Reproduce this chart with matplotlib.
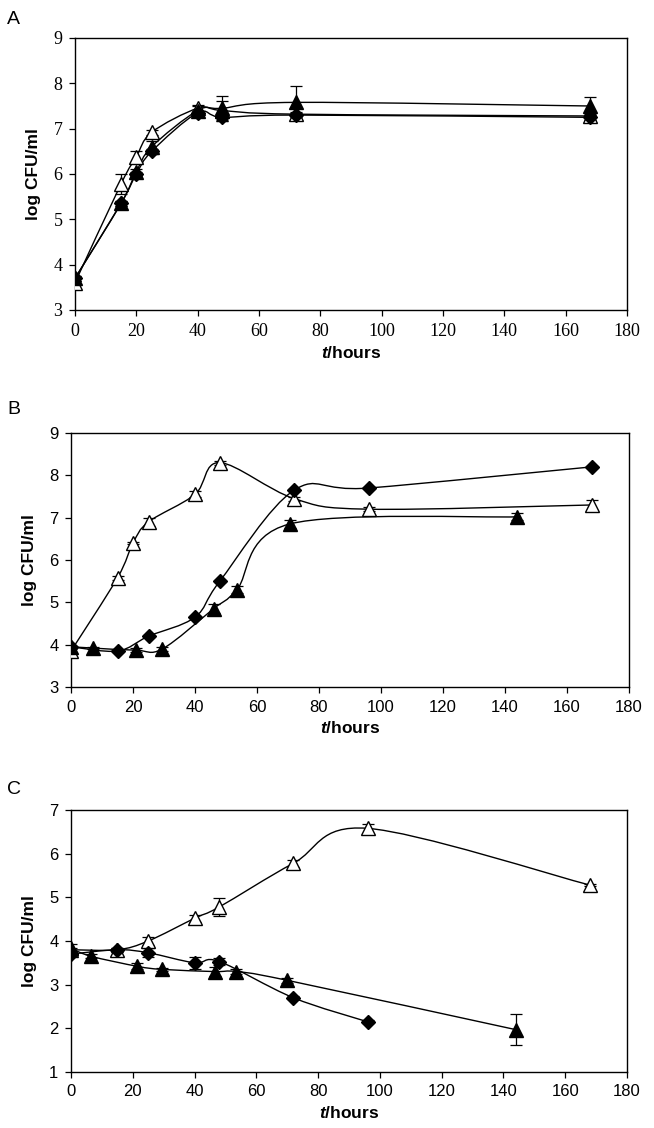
import matplotlib
matplotlib.use('Agg')
import matplotlib.pyplot as plt
from matplotlib.path import Path
from matplotlib.patches import PathPatch

plt.rcParams['font.family'] = ['Liberation Sans', 'DejaVu Sans']
plt.rcParams['mathtext.fontset'] = 'custom'
plt.rcParams['mathtext.it'] = 'Liberation Sans:italic:bold'
plt.rcParams['mathtext.rm'] = 'Liberation Sans:bold'

# ---- panel A ----
a_open_t = [0, 15, 20, 25, 40, 48, 72, 168]
a_open = [3.6, 5.78, 6.38, 6.92, 7.45, 7.4, 7.32, 7.28]
a_open_err = [0.05, 0.22, 0.12, 0.05, 0.07, 0.22, 0.05, 0.05]
a_diam_t = [0, 15, 20, 25, 40, 48, 72, 168]
a_diam = [3.7, 5.35, 6.0, 6.5, 7.35, 7.25, 7.3, 7.25]
a_diam_err = [0.05, 0.05, 0.05, 0.05, 0.05, 0.05, 0.05, 0.05]
a_fill_t = [0, 15, 20, 25, 40, 48, 72, 168]
a_fill = [3.7, 5.35, 6.05, 6.6, 7.4, 7.45, 7.58, 7.5]
a_fill_err = [0.05, 0.05, 0.05, 0.13, 0.1, 0.28, 0.36, 0.2]

# ---- panel B ----
b_open_t = [0, 15, 20, 25, 40, 48, 72, 96, 168]
b_open = [3.85, 5.58, 6.4, 6.9, 7.55, 8.3, 7.45, 7.2, 7.3]
b_open_err = [0.05, 0.05, 0.03, 0.1, 0.07, 0.05, 0.05, 0.05, 0.12]
b_diam_t = [0, 15, 25, 40, 48, 72, 96, 168]
b_diam = [3.95, 3.85, 4.2, 4.65, 5.5, 7.65, 7.7, 8.2]
b_diam_err = [0.03, 0.03, 0.03, 0.03, 0.03, 0.03, 0.03, 0.03]
b_fill_t = [0, 7, 21, 29.5, 46, 53.5, 70.5, 144]
b_fill = [3.95, 3.92, 3.87, 3.9, 4.85, 5.3, 6.85, 7.02]
b_fill_err = [0.03, 0.03, 0.05, 0.05, 0.1, 0.08, 0.1, 0.08]

# ---- panel C ----
c_open_t = [0, 15, 25, 40, 48, 72, 96, 168]
c_open = [3.8, 3.8, 4.0, 4.52, 4.78, 5.78, 6.58, 5.28]
c_open_err = [0.05, 0.05, 0.1, 0.08, 0.2, 0.08, 0.1, 0.03]
c_diam_t = [0, 15, 25, 40, 48, 72, 96]
c_diam = [3.7, 3.8, 3.73, 3.5, 3.53, 2.7, 2.15]
c_diam_err = [0.05, 0.05, 0.1, 0.14, 0.08, 0.03, 0.03]
c_fill_t = [0, 6.5, 21.5, 29.5, 46.5, 53.5, 70, 144]
c_fill = [3.83, 3.65, 3.42, 3.35, 3.3, 3.3, 3.1, 1.97]
c_fill_err = [0.1, 0.05, 0.07, 0.03, 0.1, 0.05, 0.06, 0.35]


def smooth_path(xs, ys):
    # excel style smoothed line: bezier through every point
    pts = list(zip(xs, ys))
    n = len(pts)
    verts = [pts[0]]
    codes = [Path.MOVETO]
    for i in range(n - 1):
        p0 = pts[max(i - 1, 0)]
        p1 = pts[i]
        p2 = pts[i + 1]
        p3 = pts[min(i + 2, n - 1)]
        c1 = (p1[0] + (p2[0] - p0[0]) / 6, p1[1] + (p2[1] - p0[1]) / 6)
        c2 = (p2[0] - (p3[0] - p1[0]) / 6, p2[1] - (p3[1] - p1[1]) / 6)
        verts += [c1, c2, p2]
        codes += [Path.CURVE4] * 3
    return Path(verts, codes)


def series(ax, t, y, err, marker, face, ms):
    ax.add_patch(PathPatch(smooth_path(t, y), fill=False, lw=1.0,
                           edgecolor='black', zorder=2))
    ax.errorbar(t, y, yerr=err, fmt='none', ecolor='black', elinewidth=0.9,
                capsize=4, capthick=0.9, zorder=3)
    ax.plot(t, y, linestyle='none', marker=marker, ms=ms, mfc=face,
            mec='black', mew=1.0, zorder=4)


fig = plt.figure(figsize=(6.54, 11.28), dpi=100)
W, H = 654, 1128


def make_ax(l, t, r, b, ylim, yticks, serif):
    ax = fig.add_axes([l / W, 1 - b / H, (r - l) / W, (b - t) / H])
    ax.set_xlim(0, 180)
    ax.set_ylim(*ylim)
    ax.set_xticks(range(0, 181, 20))
    ax.set_yticks(yticks)
    for s in ax.spines.values():
        s.set_linewidth(1.0)
    ax.tick_params(direction='out', length=4, width=0.9, pad=5,
                   top=False, right=False)
    fam = ['Liberation Serif'] if serif else ['Liberation Sans']
    for lab in ax.get_xticklabels() + ax.get_yticklabels():
        lab.set_family(fam)
        lab.set_fontsize(13 if serif else 12)
    ax.set_ylabel('log CFU/ml', fontsize=12.5, fontweight='bold', labelpad=9)
    ax.set_xlabel('$t$/hours', fontsize=12.5, fontweight='bold', labelpad=4)
    return ax


axA = make_ax(75, 38, 627, 310, (3, 9), range(3, 10), True)
series(axA, a_open_t, a_open, a_open_err, '^', 'white', 10)
series(axA, a_diam_t, a_diam, a_diam_err, 'D', 'black', 7.5)
series(axA, a_fill_t, a_fill, a_fill_err, '^', 'black', 10)

axB = make_ax(71, 433, 629, 687, (3, 9), range(3, 10), False)
series(axB, b_open_t, b_open, b_open_err, '^', 'white', 9.5)
series(axB, b_diam_t, b_diam, b_diam_err, 'D', 'black', 7)
series(axB, b_fill_t, b_fill, b_fill_err, '^', 'black', 9.5)

axC = make_ax(71, 810, 627, 1072, (1, 7), range(1, 8), False)
series(axC, c_open_t, c_open, c_open_err, '^', 'white', 9.5)
series(axC, c_diam_t, c_diam, c_diam_err, 'D', 'black', 7)
series(axC, c_fill_t, c_fill, c_fill_err, '^', 'black', 9.5)

fig.text(7 / W, 1 - 20 / H, 'A', fontsize=14, va='center')
fig.text(7 / W, 1 - 410 / H, 'B', fontsize=14, va='center')
fig.text(7 / W, 1 - 789 / H, 'C', fontsize=14, va='center')

fig.savefig('out.png', dpi=100)
